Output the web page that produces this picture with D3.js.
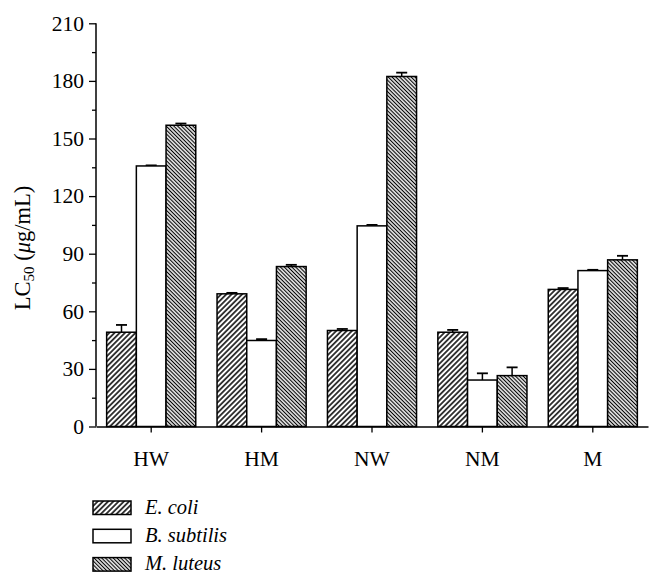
<!DOCTYPE html>
<html><head><meta charset="utf-8">
<script src="https://cdn.jsdelivr.net/npm/d3@7"></script>
<style>body{margin:0;background:#fff}svg{display:block}text{font-family:"Liberation Serif","DejaVu Serif",serif;fill:#000}</style>
</head><body>
<script>
const categories = ["HW","HM","NW","NM","M"];
const seriesNames = ["E. coli","B. subtilis","M. luteus"];
const ecoli = [49.1, 69.1, 50.0, 49.1, 71.4];
const ecoliErr = [3.8, 0.5, 0.8, 1.2, 0.7];
const bsub = [135.7, 44.8, 104.5, 24.2, 81.2];
const bsubErr = [0.3, 0.7, 0.5, 3.5, 0.4];
const mlut = [156.9, 83.3, 182.3, 26.5, 86.8];
const mlutErr = [0.9, 0.9, 2.0, 4.3, 2.1];
const yTicks = [0,30,60,90,120,150,180,210];

const W=662,H=587;
const svg=d3.select("body").append("svg").attr("width",W).attr("height",H);
const defs=svg.append("defs");
function hatch(id,angle,size,sw){
  const p=defs.append("pattern").attr("id",id).attr("patternUnits","userSpaceOnUse")
    .attr("width",size).attr("height",size).attr("patternTransform",`rotate(${angle})`);
  p.append("rect").attr("width",size).attr("height",size).attr("fill","#fff");
  p.append("line").attr("x1",size/2).attr("x2",size/2).attr("y1",0).attr("y2",size)
    .attr("stroke","#000").attr("stroke-width",sw);
}
hatch("hEcoli",45,3.7,1.5);
hatch("hMlut",-45,2.7,1.2);
const fills=["url(#hEcoli)","#fff","url(#hMlut)"];

const x=d3.scaleBand().domain(categories).range([96,648]).padding(0);
const y=d3.scaleLinear().domain([0,210]).range([426.5,23.3]);
const barW=29.7;
const xs=d3.scaleBand().domain(seriesNames).range([-barW*1.5,barW*1.5]);

const vals=[ecoli,bsub,mlut], errs=[ecoliErr,bsubErr,mlutErr];
const data=[];
seriesNames.forEach((s,si)=>categories.forEach((c,ci)=>data.push({s,si,c,v:vals[si][ci],e:errs[si][ci]})));

const g=svg.append("g");
g.selectAll(".err").data(data).join("g").each(function(d){
  const cx=x(d.c)+x.bandwidth()/2+xs(d.s)+xs.bandwidth()/2;
  const sel=d3.select(this);
  sel.append("line").attr("x1",cx).attr("x2",cx).attr("y1",y(d.v)).attr("y2",y(d.v+d.e)).attr("stroke","#000").attr("stroke-width",1.5);
  sel.append("line").attr("x1",cx-5.5).attr("x2",cx+5.5).attr("y1",y(d.v+d.e)).attr("y2",y(d.v+d.e)).attr("stroke","#000").attr("stroke-width",1.8);
});
g.selectAll(".bar").data(data).join("rect")
  .attr("x",d=>x(d.c)+x.bandwidth()/2+xs(d.s))
  .attr("y",d=>y(d.v)).attr("width",xs.bandwidth()).attr("height",d=>y(0)-y(d.v))
  .attr("fill",d=>fills[d.si]).attr("stroke","#000").attr("stroke-width",1.5);

const yAxis=svg.append("g").attr("transform","translate(96,0)")
  .call(d3.axisLeft(y).tickValues(yTicks).tickSize(7).tickPadding(5).tickFormat(d3.format("d")));
svg.append("g").attr("transform","translate(96,0)")
  .call(d3.axisLeft(y).tickValues(d3.range(15,210,30)).tickSize(4).tickFormat(""))
  .call(a=>a.select(".domain").remove());
const xAxis=svg.append("g").attr("transform","translate(0,426.5)")
  .call(d3.axisBottom(x).tickSize(6).tickSizeOuter(0).tickPadding(18));
svg.selectAll(".domain").attr("stroke-width",1.5).attr("stroke","#000");
svg.selectAll(".tick line").attr("stroke-width",1.3).attr("stroke","#000");
yAxis.selectAll(".domain").attr("d","M0,426.5V23.3");
svg.selectAll(".tick text").attr("font-family","Liberation Serif").attr("font-size",21.5).attr("fill","#000");
xAxis.selectAll(".tick text").attr("dy","0.71em");

const yl=svg.append("text").attr("transform","translate(30,248) rotate(-90)").attr("text-anchor","middle").attr("font-size",22.5);
yl.append("tspan").text("LC");
yl.append("tspan").text("50").attr("font-size",15).attr("dy",4);
yl.append("tspan").text(" (").attr("dy",-4);
yl.append("tspan").text("μ").attr("font-style","italic");
yl.append("tspan").text("g/mL)");

const lg=svg.append("g");
seriesNames.forEach((s,i)=>{
  const yy=501+i*28.3;
  lg.append("rect").attr("x",93).attr("y",yy).attr("width",38).attr("height",13.5).attr("fill",fills[i]).attr("stroke","#000").attr("stroke-width",1.5);
  lg.append("text").attr("x",145).attr("y",yy+12.8).attr("font-size",20.5).attr("font-style","italic").text(s);
});
</script>
</body></html>
